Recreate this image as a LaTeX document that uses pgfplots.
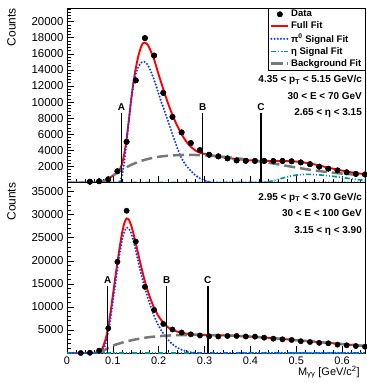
\documentclass[border=0pt]{standalone}
\usepackage{pgfplots}
\pgfplotsset{compat=1.18}
\usepackage{fontspec}
\setmainfont{Liberation Sans}
\definecolor{rootred}{RGB}{255,0,0}
\definecolor{rootblue}{RGB}{20,60,255}
\definecolor{rootteal}{RGB}{0,150,150}
\definecolor{rootgray}{RGB}{120,120,120}
\tikzset{
  cutlab/.style={font=\bfseries\fontsize{10}{12}\selectfont, anchor=south, inner sep=0pt, yshift=2.5bp},
  annot/.style={font=\bfseries\fontsize{10}{12}\selectfont, anchor=base east, inner sep=0pt},
}
\pgfplotsset{
  legline/.style={legend image code/.code={\draw[##1] plot coordinates {(0bp,0bp) (8.5bp,0bp) (17bp,0bp)};}},
  legmark/.style={legend image code/.code={\draw[##1] plot coordinates {(8.5bp,0bp)};}},
  panel/.style={scale only axis, width=298bp, xmin=0, xmax=0.65, ymin=0,
    scaled x ticks=false, scaled y ticks=false,
    axis line style={line width=0.6bp}, tick align=inside, xtick pos=bottom, ytick pos=left,
    xtick={0,0.1,0.2,0.3,0.4,0.5,0.6}, minor xtick={0.02,0.04,...,0.64},
    major tick length=7bp, minor tick length=3.5bp, tick style={line width=0.6bp, black},
    clip mode=individual,
    yticklabel style={font=\fontsize{11.5}{13}\selectfont},
    xticklabel style={font=\fontsize{11}{13}\selectfont},
    ylabel style={at={(axis description cs:-0.171,1)}, anchor=south east, inner sep=0pt, font=\fontsize{12}{14}\selectfont},
  },
  fullfit/.style={rootred, line width=1.9bp, smooth, tension=0.3, mark=none, legline},
  pisig/.style={rootblue, line width=2.3bp, dash pattern=on 0bp off 3.2bp, line cap=round, smooth, tension=0.3, mark=none, legline},
  etasig/.style={rootteal, line width=1.7bp, dash pattern=on 5bp off 2bp on 1bp off 2bp on 1bp off 2bp, smooth, tension=0.3, mark=none, legline},
  bkg/.style={rootgray, line width=2.5bp, dash pattern=on 11bp off 5bp, smooth, tension=0.3, mark=none, legline},
  datast/.style={only marks, mark=*, mark size=2.7bp, black, legmark},
  cutline/.style={black, line width=1.5bp, mark=none, forget plot},
}
\begin{document}
\begin{tikzpicture}
\begin{axis}[panel, name=top, at={(0,0)}, anchor=north west, height=174.5bp, ymax=21700,
  xticklabels={},
  ytick={0,2000,4000,6000,8000,10000,12000,14000,16000,18000,20000},
  yticklabels={,2000,4000,6000,8000,10000,12000,14000,16000,18000,20000},
  minor ytick={400,800,...,21600},
  ylabel={Counts},
  legend cell align=left,
  legend style={at={(rel axis cs:1,1)}, anchor=north east, draw=black, line width=0.5bp,
    font=\bfseries\fontsize{9.6}{11}\selectfont, inner xsep=2bp, inner ysep=0.5bp, row sep=0.6bp,
    nodes={inner sep=1.5bp}},
]
\addplot[datast] coordinates {(0.05,100) (0.07,150) (0.09,400) (0.11,1400) (0.13,5060) (0.15,12700) (0.17,17960) (0.19,15780) (0.21,11140) (0.23,8160) (0.25,6230) (0.27,4900) (0.29,4030) (0.31,3450) (0.33,3250) (0.35,3000) (0.37,2750) (0.39,2700) (0.41,2680) (0.43,2680) (0.45,2670) (0.47,2680) (0.49,2640) (0.51,2500) (0.53,2280) (0.55,1970) (0.57,1720) (0.59,1500) (0.61,1270) (0.63,1070) (0.65,1000)};
\addlegendentry{Data}
\addplot[fullfit] coordinates {(0,0) (0.07,0) (0.08,150) (0.09,450) (0.10,850) (0.11,1300) (0.115,1600) (0.12,2300) (0.125,3600) (0.13,5400) (0.135,7800) (0.14,10300) (0.145,12500) (0.15,14200) (0.155,15600) (0.16,16600) (0.165,17300) (0.17,17400) (0.175,17200) (0.18,16700) (0.19,15300) (0.20,13400) (0.21,11600) (0.22,9900) (0.23,8400) (0.24,7100) (0.25,6000) (0.26,5100) (0.27,4450) (0.28,3980) (0.29,3700) (0.30,3550) (0.32,3350) (0.34,3150) (0.36,2980) (0.38,2850) (0.40,2760) (0.42,2690) (0.44,2660) (0.46,2660) (0.48,2660) (0.50,2600) (0.52,2450) (0.54,2250) (0.56,1980) (0.58,1720) (0.60,1480) (0.62,1270) (0.65,1020)};
\addlegendentry{Full Fit}
\addplot[pisig] coordinates {(0,0) (0.11,0) (0.115,100) (0.12,800) (0.125,2600) (0.13,5000) (0.135,7800) (0.14,10300) (0.145,12200) (0.15,13500) (0.155,14300) (0.16,14800) (0.165,15000) (0.17,15000) (0.175,14700) (0.18,14200) (0.19,12800) (0.20,11000) (0.21,9300) (0.22,7700) (0.23,6000) (0.24,4400) (0.25,3000) (0.26,2100) (0.27,1450) (0.28,900) (0.29,520) (0.30,250) (0.31,80) (0.32,0) (0.65,0)};
\addlegendentry{π\textsuperscript{0} Signal Fit}
\addplot[etasig] coordinates {(0,0) (0.42,0) (0.43,30) (0.44,100) (0.45,220) (0.46,380) (0.47,540) (0.48,700) (0.49,830) (0.50,920) (0.51,980) (0.52,1010) (0.53,1010) (0.54,990) (0.55,950) (0.56,900) (0.57,840) (0.58,770) (0.59,700) (0.60,620) (0.61,540) (0.62,460) (0.63,390) (0.64,330) (0.65,280)};
\addlegendentry{η Signal Fit}
\addplot[bkg] coordinates {(0.07,0) (0.08,150) (0.09,450) (0.10,850) (0.11,1250) (0.12,1600) (0.14,2200) (0.16,2650) (0.18,2980) (0.20,3200) (0.22,3330) (0.24,3400) (0.26,3430) (0.28,3420) (0.30,3380) (0.32,3300) (0.34,3200) (0.36,3080) (0.38,2950) (0.40,2800) (0.42,2630) (0.44,2450) (0.46,2260) (0.48,2060) (0.50,1860) (0.52,1670) (0.54,1500) (0.56,1350) (0.58,1220) (0.60,1110) (0.62,1020) (0.65,900)};
\addlegendentry{Background Fit}
\addplot[cutline] coordinates {(0.119,0) (0.119,8660)};
\addplot[cutline] coordinates {(0.296,0) (0.296,8660)};
\addplot[cutline] coordinates {(0.423,0) (0.423,8660)};
\node[cutlab] at (axis cs:0.119,8660) {A};
\node[cutlab] at (axis cs:0.296,8660) {B};
\node[cutlab] at (axis cs:0.423,8660) {C};
\addplot[datast, forget plot] coordinates {(0.05,100) (0.07,150) (0.09,400) (0.11,1400) (0.13,5060) (0.15,12700) (0.17,17960) (0.19,15780) (0.21,11140) (0.23,8160) (0.25,6230) (0.27,4900) (0.29,4030) (0.31,3450) (0.33,3250) (0.35,3000) (0.37,2750) (0.39,2700) (0.41,2680) (0.43,2680) (0.45,2670) (0.47,2680) (0.49,2640) (0.51,2500) (0.53,2280) (0.55,1970) (0.57,1720) (0.59,1500) (0.61,1270) (0.63,1070) (0.65,1000)};
\node[annot] at (rel axis cs:0.99,0.5725) {4.35 < p\textsubscript{T} < 5.15 GeV/c};
\node[annot] at (rel axis cs:0.99,0.4768) {30 < E < 70 GeV};
\node[annot] at (rel axis cs:0.99,0.3817) {2.65 < η < 3.15};
\end{axis}
\begin{axis}[panel, name=bot, at={(top.south west)}, anchor=north west, height=170.5bp, ymax=37000,
  xticklabels={0,0.1,0.2,0.3,0.4,0.5,0.6},
  ytick={0,5000,10000,15000,20000,25000,30000,35000},
  yticklabels={,5000,10000,15000,20000,25000,30000,35000},
  minor ytick={1000,2000,...,37000},
  ylabel={Counts},
  xlabel={M\textsubscript{γγ} [GeV/c\textsuperscript{2}]},
  xlabel style={at={(axis description cs:0.983,-0.075)}, anchor=north east, inner sep=0pt, font=\fontsize{11}{13}\selectfont},
]
\addplot[fullfit] coordinates {(0,0) (0.05,0) (0.06,50) (0.07,250) (0.075,600) (0.08,1700) (0.085,3300) (0.09,5600) (0.095,8900) (0.10,12500) (0.105,16200) (0.11,19700) (0.115,23000) (0.12,26000) (0.125,28200) (0.13,29200) (0.135,28900) (0.14,27700) (0.145,25900) (0.15,23800) (0.16,19500) (0.17,15500) (0.18,12300) (0.19,9800) (0.20,7900) (0.21,6600) (0.22,5600) (0.23,5000) (0.24,4650) (0.26,4200) (0.28,4000) (0.30,3920) (0.32,3880) (0.34,3830) (0.36,3760) (0.38,3670) (0.40,3560) (0.42,3430) (0.44,3290) (0.46,3130) (0.48,2960) (0.50,2790) (0.52,2620) (0.54,2450) (0.56,2280) (0.58,2110) (0.60,1940) (0.62,1770) (0.65,1520)};
\addplot[etasig] coordinates {(0,0) (0.65,0)};
\addplot[pisig] coordinates {(0,0) (0.07,0) (0.075,200) (0.08,900) (0.085,2300) (0.09,4500) (0.095,7500) (0.10,11000) (0.105,14700) (0.11,18300) (0.115,21600) (0.12,24400) (0.125,26300) (0.13,27200) (0.135,27000) (0.14,26000) (0.145,24300) (0.15,22200) (0.16,17800) (0.17,14000) (0.18,10800) (0.19,8000) (0.20,5900) (0.21,4200) (0.22,2900) (0.23,1900) (0.24,1200) (0.25,700) (0.26,350) (0.27,150) (0.28,50) (0.29,0) (0.65,0)};
\addplot[bkg] coordinates {(0.07,0) (0.075,200) (0.08,500) (0.09,1100) (0.10,1600) (0.12,2250) (0.14,2750) (0.16,3150) (0.18,3450) (0.20,3650) (0.22,3780) (0.24,3860) (0.26,3900) (0.28,3920) (0.30,3910) (0.32,3880) (0.34,3830) (0.36,3760) (0.38,3670) (0.40,3560) (0.42,3430) (0.44,3290) (0.46,3130) (0.48,2960) (0.50,2790) (0.52,2620) (0.54,2450) (0.56,2280) (0.58,2110) (0.60,1940) (0.62,1770) (0.65,1520)};
\addplot[cutline] coordinates {(0.0888,0) (0.0888,14530)};
\addplot[cutline] coordinates {(0.2174,0) (0.2174,14530)};
\addplot[cutline] coordinates {(0.307,0) (0.307,14530)};
\node[cutlab] at (axis cs:0.0888,14530) {A};
\node[cutlab] at (axis cs:0.2174,14530) {B};
\node[cutlab] at (axis cs:0.307,14530) {C};
\addplot[datast] coordinates {(0.03,0) (0.05,50) (0.07,500) (0.09,5370) (0.11,19800) (0.13,30870) (0.15,24200) (0.17,14350) (0.19,9350) (0.21,6300) (0.23,5100) (0.25,4450) (0.27,4050) (0.29,3800) (0.31,3620) (0.33,3580) (0.35,3700) (0.37,3700) (0.39,3580) (0.41,3550) (0.43,3330) (0.45,3110) (0.47,2970) (0.49,2830) (0.51,2560) (0.53,2390) (0.55,2200) (0.57,2100) (0.59,1820) (0.61,1670) (0.63,1520) (0.65,1370)};
\node[annot] at (rel axis cs:0.99,0.8956) {2.95 < p\textsubscript{T} < 3.70 GeV/c};
\node[annot] at (rel axis cs:0.99,0.7982) {30 < E < 100 GeV};
\node[annot] at (rel axis cs:0.99,0.7003) {3.15 < η < 3.90};
\end{axis}
\pgfresetboundingbox
\path[use as bounding box] ([xshift=-67bp,yshift=8bp]top.north west) rectangle ([xshift=1bp,yshift=-30bp]bot.south east);
\end{tikzpicture}
\end{document}
